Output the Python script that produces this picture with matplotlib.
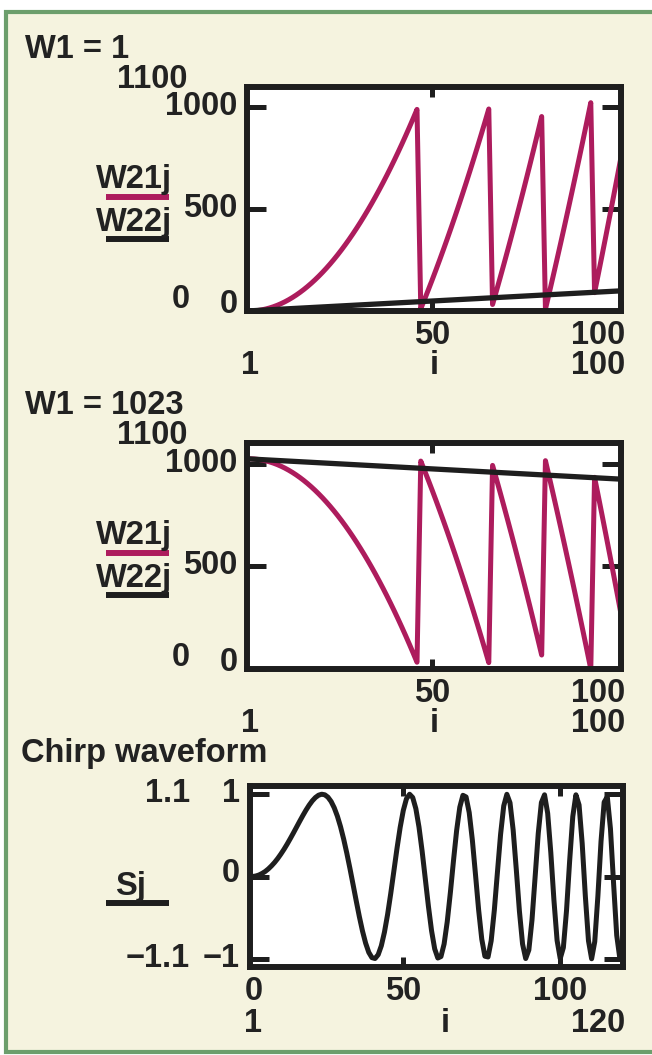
import numpy as np
import matplotlib
matplotlib.use('Agg')
import matplotlib.pyplot as plt
from matplotlib.patches import Rectangle
from matplotlib.lines import Line2D
from matplotlib.transforms import offset_copy

# ---------------- data ----------------
idx_w = np.arange(1, 101)          # i = 1 .. 100
idx_s = np.arange(1, 121)          # i = 1 .. 120

# W1 = 1
w21_a = [0, 0, 1, 3, 6, 10, 15, 21, 28, 36, 45, 55, 66, 78, 91, 105, 120, 136, 153, 171,
         190, 210, 231, 253, 276, 300, 325, 351, 378, 406, 435, 465, 496, 528, 561, 595,
         630, 666, 703, 741, 780, 820, 861, 903, 946, 990, 11, 57, 104, 152, 201, 251,
         302, 354, 407, 461, 516, 572, 629, 687, 746, 806, 867, 929, 992, 32, 97, 163,
         230, 298, 367, 437, 508, 580, 653, 727, 802, 878, 955, 9, 88, 168, 249, 331,
         414, 498, 583, 669, 756, 844, 933, 1023, 90, 182, 275, 369, 464, 560, 657, 755]
w22_a = [0, 1, 2, 3, 4, 5, 6, 7, 8, 9, 10, 11, 12, 13, 14, 15, 16, 17, 18, 19,
         20, 21, 22, 23, 24, 25, 26, 27, 28, 29, 30, 31, 32, 33, 34, 35, 36, 37, 38, 39,
         40, 41, 42, 43, 44, 45, 46, 47, 48, 49, 50, 51, 52, 53, 54, 55, 56, 57, 58, 59,
         60, 61, 62, 63, 64, 65, 66, 67, 68, 69, 70, 71, 72, 73, 74, 75, 76, 77, 78, 79,
         80, 81, 82, 83, 84, 85, 86, 87, 88, 89, 90, 91, 92, 93, 94, 95, 96, 97, 98, 99]

# W1 = 1023
w21_b = [1023, 1023, 1022, 1020, 1017, 1013, 1008, 1002, 995, 987, 978, 968, 957, 945, 932,
         918, 903, 887, 870, 852, 833, 813, 792, 770, 747, 723, 698, 672, 645, 617, 588,
         558, 527, 495, 462, 428, 393, 357, 320, 282, 243, 203, 162, 120, 77, 33, 1012,
         966, 919, 871, 822, 772, 721, 669, 616, 562, 507, 451, 394, 336, 277, 217, 156,
         94, 31, 991, 926, 860, 793, 725, 656, 586, 515, 443, 370, 296, 221, 145, 68,
         1014, 935, 855, 774, 692, 609, 525, 440, 354, 267, 179, 90, 0, 933, 841, 748,
         654, 559, 463, 366, 268]
w22_b = [1023, 1022, 1021, 1020, 1019, 1018, 1017, 1016, 1015, 1014, 1013, 1012, 1011, 1010,
         1009, 1008, 1007, 1006, 1005, 1004, 1003, 1002, 1001, 1000, 999, 998, 997, 996,
         995, 994, 993, 992, 991, 990, 989, 988, 987, 986, 985, 984, 983, 982, 981, 980,
         979, 978, 977, 976, 975, 974, 973, 972, 971, 970, 969, 968, 967, 966, 965, 964,
         963, 962, 961, 960, 959, 958, 957, 956, 955, 954, 953, 952, 951, 950, 949, 948,
         947, 946, 945, 944, 943, 942, 941, 940, 939, 938, 937, 936, 935, 934, 933, 932,
         931, 930, 929, 928, 927, 926, 925, 924]

# chirp waveform S_j
s_chirp = [0.0, 0.0, 0.006, 0.018, 0.037, 0.061, 0.092, 0.129, 0.171, 0.219,
           0.273, 0.331, 0.394, 0.461, 0.530, 0.601, 0.672, 0.741, 0.807, 0.867,
           0.919, 0.960, 0.988, 1.000, 0.993, 0.964, 0.912, 0.835, 0.733, 0.606,
           0.455, 0.284, 0.098, -0.098, -0.296, -0.488, -0.663, -0.810, -0.922, -0.986,
           -0.997, -0.950, -0.842, -0.676, -0.461, -0.207, 0.067, 0.343, 0.596, 0.803,
           0.944, 1.000, 0.960, 0.825, 0.601, 0.308, -0.025, -0.360, -0.658, -0.879,
           -0.991, -0.973, -0.821, -0.550, -0.195, 0.195, 0.561, 0.842, 0.987, 0.967,
           0.777, 0.444, 0.025, -0.405, -0.761, -0.969, -0.978, -0.781, -0.411, 0.055,
           0.514, 0.858, 0.999, 0.896, 0.566, 0.086, -0.422, -0.821, -0.997, -0.893,
           -0.530, -0.006, 0.525, 0.899, 0.993, 0.769, 0.290, -0.290, -0.777, -0.997,
           -0.864, -0.416, 0.189, 0.729, 0.993, 0.870, 0.400, -0.237, -0.781, -1.000,
           -0.792, -0.237, 0.428, 0.904, 0.969, 0.581, -0.086, -0.716, -0.999, -0.785]

# ---------------- style ----------------
W, H = 652, 1055
CREAM = '#F5F3DF'
GREEN = '#6C9E6C'
MAGENTA = '#AD1C5D'
INK = '#1e1e1e'
FAM = ['Liberation Sans', 'DejaVu Sans']
FS = 23.5
TXT = dict(fontsize=FS, family=FAM, fontweight='bold', color='#222222')

fig = plt.figure(figsize=(W / 100, H / 100), dpi=100)
fig.patch.set_facecolor('white')


def fx(px):
    return px / W


def fy(py):
    return 1 - py / H


fig.add_artist(Rectangle((fx(6), fy(1052)), fx(700) - fx(6), fy(12) - fy(1052),
                         transform=fig.transFigure, facecolor=CREAM,
                         edgecolor=GREEN, linewidth=3, zorder=0))


def ftext(xpx, ypx, s, ha='left'):
    fig.text(fx(xpx), fy(ypx), s, ha=ha, va='baseline', **TXT)


def legend_line(ypx, color):
    fig.add_artist(Line2D([fx(106), fx(169)], [fy(ypx), fy(ypx)],
                          transform=fig.transFigure, color=color, lw=4.3,
                          solid_capstyle='butt'))


def make_axes(left, right, top, bottom):
    ax = fig.add_axes([fx(left), fy(bottom), (right - left) / W, (bottom - top) / H])
    ax.set_facecolor('white')
    for sp in ax.spines.values():
        sp.set_linewidth(4.3)
        sp.set_color(INK)
    ax.tick_params(axis='both', direction='in', top=True, right=True,
                   labelbottom=False, labelleft=False, color=INK, width=3.6)
    ax.tick_params(axis='y', length=13.7)
    ax.tick_params(axis='x', length=7.2)
    return ax


def ylab(ax, y, s, dy=-8, dx=-9.5):
    ax.text(0, y, s, transform=offset_copy(ax.get_yaxis_transform(), fig=fig,
                                           x=dx, y=dy, units='dots'),
            ha='right', va='baseline', **TXT)


def xlab(ax, x, s, dy, ha='center', dx=0):
    ax.text(x, 0, s, transform=offset_copy(ax.get_xaxis_transform(), fig=fig,
                                           x=dx, y=-dy, units='dots'),
            ha=ha, va='baseline', **TXT)


def nco_panel(top, bottom, title, w21, w22):
    ax = make_axes(247, 621, top, bottom)
    ax.plot(idx_w, w21, color=MAGENTA, lw=3.6, zorder=2)
    ax.plot(idx_w, w22, color=INK, lw=3.8, zorder=2.1)
    ax.set_xlim(1, 100)
    ax.set_ylim(0, 1100)
    ax.set_xticks([50, 100])
    ax.set_yticks([0, 500, 1000])
    ylab(ax, 1000, '1000')
    ylab(ax, 500, '500')
    ylab(ax, 0, '0', dy=-2)
    xlab(ax, 50, '50', 33)
    xlab(ax, 100, '100', 33, ha='right', dx=4)
    xlab(ax, 1, '1', 63, dx=3)
    xlab(ax, 50.5, 'i', 63)
    xlab(ax, 100, '100', 63, ha='right', dx=4)
    ftext(25, top - 29, title)
    ftext(187.5, top + 1, '1100', ha='right')
    ftext(190, bottom - 3.5, '0', ha='right')
    ftext(96, top + 101, 'W21j')
    legend_line(top + 110, MAGENTA)
    ftext(96, top + 144, 'W22j')
    legend_line(top + 151.5, INK)
    return ax


nco_panel(87, 311, 'W1 = 1', w21_a, w22_a)
nco_panel(443, 669, 'W1 = 1023', w21_b, w22_b)

# chirp panel
top, bottom = 786, 967
ax = make_axes(249.5, 623, top, bottom)
ax.plot(idx_s, s_chirp, color=INK, lw=3.6, zorder=2)
ax.set_xlim(1, 120)
ax.set_ylim(-1.1, 1.1)
ax.set_xticks([50, 100])
ax.set_yticks([-1, 0, 1])
ylab(ax, 1, '1')
ylab(ax, 0, '0', dy=-6)
ylab(ax, -1, '\u22121')
xlab(ax, 1, '0', 33, dx=4)
xlab(ax, 50, '50', 33)
xlab(ax, 100, '100', 33)
xlab(ax, 1, '1', 65, dx=4)
xlab(ax, 63.5, 'i', 65)
xlab(ax, 120, '120', 65, ha='right', dx=2)
ftext(21, 762, 'Chirp waveform')
ftext(190, 802, '1.1', ha='right')
ftext(190, 967, '\u22121.1', ha='right')
ftext(115, 895, 'Sj')
legend_line(903, INK)

fig.savefig('out.png', dpi=100, facecolor=fig.get_facecolor())
